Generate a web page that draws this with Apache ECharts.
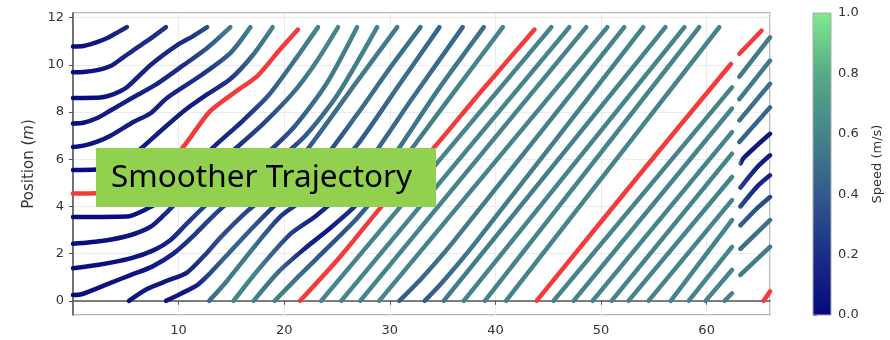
<!DOCTYPE html>
<html>
<head>
<meta charset="utf-8">
<script src="https://cdn.jsdelivr.net/npm/echarts@6/dist/echarts.min.js"></script>
<style>
  html, body { margin: 0; padding: 0; background: #fff; }
  #chart { width: 890px; height: 340px; }
</style>
</head>
<body>
<div id="chart"></div>
<script>
// each track point: [time (s), position (m), speed (m/s)]
// first lap, cars starting from the queue (red car kept apart)
const lap1 = [
  [[0,10.78,0.02],[1,10.8,0.04],[2.2,10.95,0.08],[3.3,11.15,0.12],[4.3,11.4,0.15],[5.1,11.6,0.18]],
  [[0,9.69,0.02],[1,9.7,0.03],[2.3,9.78,0.06],[3.55,9.95,0.1],[4.7,10.3,0.15],[5.8,10.65,0.18],[7.3,11.1,0.2],[8.8,11.6,0.25]],
  [[0,8.6,0.02],[2.6,8.62,0.03],[3.8,8.75,0.08],[5.1,9.05,0.12],[7.35,10.0,0.15],[9.9,10.85,0.18],[11.3,11.2,0.25],[12.7,11.6,0.35]],
  [[0,7.52,0.02],[1,7.55,0.04],[2.3,7.75,0.1],[3.55,8.07,0.12],[5.8,8.65,0.12],[7.8,9.15,0.15],[10.5,10.0,0.2],[12.8,10.75,0.4],[14.9,11.6,0.6]],
  [[0,6.52,0.02],[1,6.58,0.04],[2.3,6.75,0.08],[3.55,7.0,0.1],[5.8,7.6,0.12],[7.35,7.95,0.12],[8.9,8.6,0.15],[12.1,9.55,0.2],[14.9,10.5,0.45],[16.8,11.6,0.6]],
  [[0,5.55,0.02],[2.2,5.57,0.02],[4,5.8,0.06],[6,6.3,0.1],[8.3,7.2,0.12],[10.5,8.05,0.12],[12.7,8.75,0.12],[14.9,9.4,0.25],[17,10.4,0.5],[18.9,11.6,0.6]],
  [[0,3.55,0.02],[5.1,3.57,0.02],[7,3.9,0.08],[8.5,4.3,0.12],[11,5.5,0.15],[13.5,6.6,0.15],[16,7.6,0.2],[18.5,8.7,0.4],[21,10.2,0.55],[23.2,11.6,0.6]],
  [[0,2.42,0.02],[2.9,2.55,0.04],[5.4,2.78,0.06],[7.35,3.14,0.1],[8.6,3.63,0.15],[9.55,4.06,0.2],[12,5.1,0.2],[15,6.3,0.2],[18,7.5,0.3],[21,8.9,0.5],[23,10.1,0.6],[25.1,11.6,0.6]],
  [[0,1.38,0.02],[2.3,1.52,0.04],[5.45,1.8,0.06],[7.66,2.15,0.08],[9.24,2.58,0.15],[10.8,3.28,0.25],[12.4,3.98,0.3],[15,5.0,0.2],[18,6.1,0.2],[21,7.4,0.4],[24,9.2,0.55],[26.9,11.6,0.6]],
  [[0,0.25,0.02],[0.8,0.28,0.03],[3.5,0.75,0.06],[5.5,1.1,0.06],[7.5,1.45,0.08],[9.5,2.0,0.15],[11.5,2.8,0.25],[13.5,3.7,0.3],[16,4.7,0.2],[19,5.8,0.2],[22,7.0,0.4],[25,8.7,0.55],[28.8,11.6,0.6]]
];

const lap2 = [
  [[5.3,0,0.05],[7,0.5,0.08],[8.9,0.85,0.08],[10.8,1.2,0.12],[12.4,1.9,0.25],[14,2.7,0.35],[16.5,3.8,0.3],[19.7,5.0,0.2],[23,6.9,0.45],[26.9,9.3,0.55],[30.7,11.6,0.55]],
  [[8.8,0,0.05],[10.2,0.3,0.08],[11.8,0.68,0.12],[13,1.18,0.3],[14.5,1.9,0.45],[17,3.1,0.4],[19.7,4.3,0.15],[23,5.6,0.25],[26.9,7.9,0.5],[29.9,9.8,0.5],[32.9,11.6,0.5]],
  [[12.9,0,0.45],[14.5,0.8,0.55],[17,2.2,0.55],[19.7,3.6,0.25],[23.1,4.7,0.1],[26.9,6.6,0.4],[30.8,9.1,0.5],[34.7,11.6,0.45]],
  [[15.2,0,0.6],[17.5,1.3,0.6],[20.5,2.8,0.3],[23,3.6,0.12],[25.5,4.6,0.25],[28,5.9,0.45],[32,8.5,0.5],[36.9,11.6,0.45]],
  [[17.1,0,0.6],[19.5,1.25,0.5],[21.9,2.2,0.15],[24.4,3.1,0.1],[26.9,4.1,0.25],[30,5.9,0.5],[34.5,8.9,0.55],[38.9,11.6,0.5]],
  [[19.1,0,0.6],[21.5,1.1,0.5],[24,2.2,0.35],[26.9,3.5,0.4],[29.5,4.9,0.5],[32.5,6.7,0.55],[36.5,9.1,0.6],[40.7,11.6,0.6]],
  [[23.5,0,0.6],[45.3,11.6,0.6]],
  [[25.4,0,0.6],[47.0,11.6,0.6]],
  [[27.2,0,0.6],[48.6,11.6,0.6]],
  [[29.0,0,0.6],[50.6,11.6,0.6]]
];

const lap3 = [
  [[30.9,0,0.4],[33,0.95,0.45],[36,2.5,0.55],[52.2,11.6,0.6]],
  [[33.3,0,0.4],[35,0.8,0.45],[38,2.4,0.55],[54.0,11.6,0.6]],
  [[35.1,0,0.55],[56.1,11.6,0.6]],
  [[37.0,0,0.6],[57.9,11.6,0.6]],
  [[39.0,0,0.6],[59.3,11.6,0.6]],
  [[41.0,0,0.6],[61.2,11.6,0.6]],
  [[45.5,0,0.6],[62.4,9.05,0.6]],
  [[47.4,0,0.6],[62.4,8.15,0.6]],
  [[49.2,0,0.6],[62.4,7.15,0.6]],
  [[51.0,0,0.6],[62.4,6.24,0.6]]
];

const lap4 = [
  [[52.6,0,0.6],[62.4,5.25,0.6]],
  [[54.5,0,0.6],[62.4,4.27,0.6]],
  [[56.6,0,0.6],[62.4,3.42,0.6]],
  [[58.3,0,0.6],[62.4,2.29,0.6]],
  [[59.9,0,0.6],[62.4,1.31,0.6]],
  [[61.7,0,0.6],[62.4,0.32,0.6]]
];

// after the logging gap
const tail = [
  [[63.1,9.5,0.55],[66,11.17,0.55]],
  [[63.1,8.55,0.55],[66,10.18,0.55]],
  [[63.1,7.65,0.5],[66,9.2,0.5]],
  [[63.1,6.73,0.45],[66,8.2,0.45]],
  [[63.2,5.82,0.9],[63.5,6.05,0.1],[64.8,6.6,0.08],[66,7.08,0.1]],
  [[63.2,4.8,0.3],[64.8,5.67,0.1],[66,6.17,0.1]],
  [[63.2,4.0,0.35],[64.8,4.85,0.15],[66,5.32,0.15]],
  [[63.2,3.2,0.45],[64.6,3.85,0.35],[66,4.4,0.3]],
  [[63.2,2.2,0.5],[66,3.42,0.5]],
  [[63.2,1.1,0.55],[66,2.29,0.55]]
];

// highlighted car: [time, position]
const redCar = [
  [[0,4.55],[2.2,4.56],[5,4.7],[7.5,5.3],[10.3,6.45],[12.9,8.0],[15.2,8.8],[17.5,9.55],[19.5,10.6],[21.3,11.5]],
  [[21.5,0],[25.3,1.87],[29.4,4.1],[34.2,6.5],[38.5,8.8],[43.7,11.5]],
  [[43.9,0],[54.1,5.6],[62.3,10.04]],
  [[63.1,10.47],[65.2,11.45]],
  [[65.4,0],[66,0.4]]
];

const speedRange = [0, 1];
const cmapStops = [
  [0.0, '#07077f'],
  [0.2, '#1b2e87'],
  [0.4, '#315b8c'],
  [0.6, '#45848a'],
  [0.8, '#57ab84'],
  [1.0, '#82ea8f']
];

function hexToRgb(h) {
  return [parseInt(h.slice(1, 3), 16), parseInt(h.slice(3, 5), 16), parseInt(h.slice(5, 7), 16)];
}
function speedColor(s) {
  s = Math.max(0, Math.min(1, s));
  for (let i = 1; i < cmapStops.length; i++) {
    if (s <= cmapStops[i][0]) {
      const a = cmapStops[i - 1], b = cmapStops[i];
      const f = (s - a[0]) / (b[0] - a[0]);
      const ca = hexToRgb(a[1]), cb = hexToRgb(b[1]);
      const c = ca.map((v, k) => Math.round(v + (cb[k] - v) * f));
      return 'rgb(' + c.join(',') + ')';
    }
  }
  return cmapStops[cmapStops.length - 1][1];
}

function trackSeries(track, red) {
  let color;
  if (red) {
    color = '#f33b3b';
  } else {
    const t0 = track[0][0], t1 = track[track.length - 1][0];
    const same = track.every(p => p[2] === track[0][2]);
    color = same ? speedColor(track[0][2]) : new echarts.graphic.LinearGradient(0, 0, 1, 0,
      track.map(p => ({ offset: (p[0] - t0) / (t1 - t0), color: speedColor(p[2]) })));
  }
  return {
    type: 'line',
    data: track.map(p => [p[0], p[1]]),
    smooth: 0.25,
    showSymbol: false,
    symbol: 'none',
    silent: true,
    z: red ? 3 : 2,
    lineStyle: { width: 4.5, color: color, cap: 'round', join: 'round' }
  };
}

const series = [];
[lap1, lap2, lap3, lap4, tail].forEach(group => group.forEach(tr => series.push(trackSeries(tr, false))));
redCar.forEach(tr => series.push(trackSeries(tr, true)));

// colour bar
series.push({
  type: 'custom',
  xAxisIndex: 1,
  yAxisIndex: 1,
  silent: true,
  data: [[0, speedRange[0]]],
  renderItem: function (params, api) {
    const p0 = api.coord([0, speedRange[0]]);
    const p1 = api.coord([1, speedRange[1]]);
    return {
      type: 'rect',
      shape: { x: p0[0], y: p1[1], width: p1[0] - p0[0], height: p0[1] - p1[1] },
      style: {
        fill: new echarts.graphic.LinearGradient(0, 1, 0, 0,
          cmapStops.map(s => ({ offset: s[0], color: s[1] }))),
        stroke: '#aaa',
        lineWidth: 1
      }
    };
  }
});

const font = 'DejaVu Sans';
const chart = echarts.init(document.getElementById('chart'));
chart.setOption({
  animation: false,
  backgroundColor: '#fff',
  grid: [
    { left: 73, top: 13, width: 697, height: 302, show: true, borderColor: '#a0a0a0', borderWidth: 1.5 },
    { left: 813, top: 13, width: 18, height: 302 }
  ],
  xAxis: [
    {
      type: 'value', gridIndex: 0, min: 0, max: 66, interval: 10,
      axisLine: { lineStyle: { color: '#555', width: 1.5 } },
      axisTick: { length: 4, lineStyle: { color: '#555' } },
      axisLabel: { color: '#333', fontSize: 13, fontFamily: font, margin: 9, showMinLabel: false, showMaxLabel: false },
      splitLine: { lineStyle: { color: '#ebebeb', width: 1 } }
    },
    { type: 'value', gridIndex: 1, min: 0, max: 1, show: false }
  ],
  yAxis: [
    {
      type: 'value', gridIndex: 0, min: -0.6, max: 12.2, splitNumber: 6,
      name: 'Position ({i|m})',
      nameLocation: 'middle', nameRotate: 90, nameGap: 36,
      nameTextStyle: { color: '#333', fontSize: 15, fontFamily: font, rich: { i: { fontStyle: 'italic', fontSize: 15, fontFamily: font, color: '#333' } } },
      axisLine: { show: true, lineStyle: { color: '#555', width: 1.5 } },
      axisTick: { show: true, length: 4, lineStyle: { color: '#555' } },
      axisLabel: { color: '#333', fontSize: 13, fontFamily: font, margin: 9, showMinLabel: false, showMaxLabel: false },
      splitLine: { lineStyle: { color: '#ebebeb', width: 1 } }
    },
    {
      type: 'value', gridIndex: 1, position: 'right', min: 0, max: 1, interval: 0.2,
      name: 'Speed (m/s)',
      nameLocation: 'middle', nameRotate: 90, nameGap: 40,
      nameTextStyle: { color: '#333', fontSize: 13, fontFamily: font },
      axisLine: { show: false },
      axisTick: { show: true, length: 4, lineStyle: { color: '#555' } },
      axisLabel: { color: '#333', fontSize: 13, fontFamily: font, margin: 7, formatter: v => v.toFixed(1) },
      splitLine: { show: false }
    }
  ],
  series: series,
  graphic: [
    {
      type: 'group', left: 96, top: 148, z: 100, zlevel: 1,
      children: [
        { type: 'rect', z: 100, shape: { x: 0, y: 0, width: 340, height: 59 }, style: { fill: '#92d050' } },
        { type: 'text', z: 101, x: 15, y: 30, style: { text: 'Smoother Trajectory', fontSize: 31.5, fontFamily: 'Noto Sans', fill: '#000', verticalAlign: 'middle' } }
      ]
    }
  ]
});
</script>
</body>
</html>
